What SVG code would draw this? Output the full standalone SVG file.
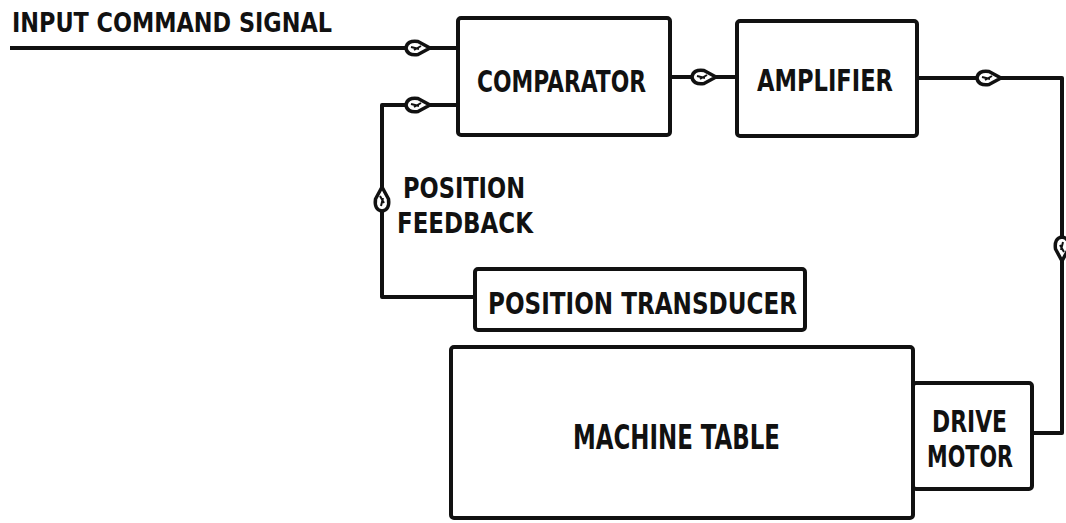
<svg xmlns="http://www.w3.org/2000/svg" xmlns:xlink="http://www.w3.org/1999/xlink" width="1066" height="523" viewBox="0 0 1066 523">
  <style>
    .box { fill: #ffffff; stroke: #111111; stroke-width: 4; stroke-linejoin: round; }
    .wire { fill: none; stroke: #111111; stroke-width: 4; stroke-linejoin: round; stroke-linecap: square; }
    .lbl { font-family: "DejaVu Sans Condensed", "Liberation Sans", sans-serif; font-weight: bold; fill: #111111; }
    .head { fill: #ffffff; stroke: #111111; stroke-width: 3.5; stroke-linejoin: round; }
  </style>
  <defs>
    <!-- teardrop arrowhead pointing along +x, centred on the wire -->
    <g id="arrowhead">
      <path class="head" d="M13,0 L1,-6.5 Q-10,-8 -11,0 Q-10,8 1,6.5 Z"/>
      <path d="M-6,-1 L2,1 M-3,2 L4,-2" stroke="#111111" stroke-width="2" fill="none"/>
    </g>
  </defs>

  <rect width="1066" height="523" fill="#ffffff"/>

  <!-- connectors -->
  <g id="connectors">
    <!-- input command signal into comparator -->
    <path class="wire" d="M12,48 H458"/>
    <use xlink:href="#arrowhead" transform="translate(417,48)"/>
    <!-- position feedback loop: transducer back to comparator -->
    <path class="wire" d="M475,297 H382 V105 H458"/>
    <use xlink:href="#arrowhead" transform="translate(382,200) rotate(-90)"/>
    <use xlink:href="#arrowhead" transform="translate(417,105)"/>
    <!-- comparator to amplifier -->
    <path class="wire" d="M670,77 H737"/>
    <use xlink:href="#arrowhead" transform="translate(703,77)"/>
    <!-- amplifier to drive motor -->
    <path class="wire" d="M917,78 H1062 V433 H1032"/>
    <use xlink:href="#arrowhead" transform="translate(988,78)"/>
    <use xlink:href="#arrowhead" transform="translate(1062,248) rotate(90)"/>
  </g>

  <!-- input label -->
  <g id="input-label">
    <text class="lbl" x="12" y="32" font-size="27" textLength="320" lengthAdjust="spacingAndGlyphs">INPUT COMMAND SIGNAL</text>
  </g>

  <g id="comparator">
    <rect class="box" x="458" y="18" width="212" height="117" rx="3"/>
    <text class="lbl" x="477" y="92" font-size="30" textLength="169" lengthAdjust="spacingAndGlyphs">COMPARATOR</text>
  </g>

  <g id="amplifier">
    <rect class="box" x="737" y="21" width="180" height="115" rx="3"/>
    <text class="lbl" x="757" y="91" font-size="30" textLength="136" lengthAdjust="spacingAndGlyphs">AMPLIFIER</text>
  </g>

  <g id="feedback-label">
    <text class="lbl" x="403" y="198" font-size="28" textLength="122" lengthAdjust="spacingAndGlyphs">POSITION</text>
    <text class="lbl" x="397" y="233" font-size="28" textLength="136" lengthAdjust="spacingAndGlyphs">FEEDBACK</text>
  </g>

  <g id="position-transducer">
    <rect class="box" x="475" y="269" width="330" height="61" rx="3"/>
    <text class="lbl" x="488" y="314" font-size="31" textLength="309" lengthAdjust="spacingAndGlyphs">POSITION TRANSDUCER</text>
  </g>

  <g id="machine-table">
    <rect class="box" x="451" y="347" width="462" height="171" rx="3"/>
    <text class="lbl" x="573" y="449" font-size="33" textLength="207" lengthAdjust="spacingAndGlyphs">MACHINE TABLE</text>
  </g>

  <g id="drive-motor">
    <rect class="box" x="913" y="383" width="119" height="106" rx="3"/>
    <text class="lbl" x="932" y="432" font-size="31" textLength="75" lengthAdjust="spacingAndGlyphs">DRIVE</text>
    <text class="lbl" x="927" y="467" font-size="31" textLength="86" lengthAdjust="spacingAndGlyphs">MOTOR</text>
  </g>
</svg>
